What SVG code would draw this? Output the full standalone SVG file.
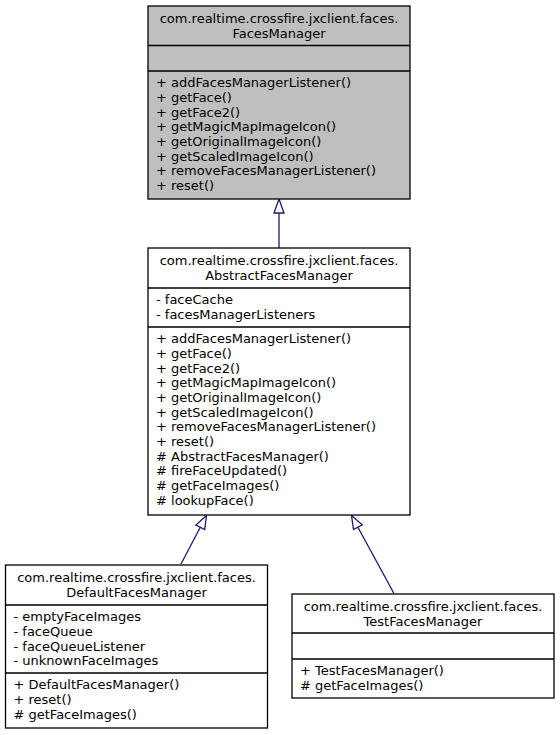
<svg xmlns="http://www.w3.org/2000/svg" width="560" height="735" viewBox="0 0 560 735">
<style>
text{font-family:"DejaVu Sans","Liberation Sans",sans-serif;font-size:13px;fill:#000}
.c{text-anchor:middle}
.box{fill:#fff;stroke:#000;stroke-width:1.3}
.gray{fill:#bfbfbf}
.sep{stroke:#000;stroke-width:1.3;fill:none}
.edge{stroke:#191970;stroke-width:1.3;fill:none}
.head{fill:#fff;stroke:#191970;stroke-width:1.3}
</style>
<rect width="560" height="735" fill="#fff"/>
<g id="connectors">
<path class="edge" d="M279,248 L279,213"/>
<polygon class="head" points="279,199 284,213 274,213"/>
<path class="edge" d="M181,564 L200.3,527.3"/>
<polygon class="head" points="206.5,515.5 204.7,529.6 195.9,525"/>
<path class="edge" d="M394,593.5 L357.9,527.2"/>
<polygon class="head" points="351.5,515.5 362.3,524.8 353.5,529.6"/>
</g>
<g id="FacesManager">
<rect class="box gray" x="148" y="6" width="262" height="193"/>
<path class="sep" d="M148,45.5 H410 M148,71 H410"/>
<text class="c" x="279" y="23.3">com.realtime.crossfire.jxclient.faces.</text>
<text class="c" x="279" y="38">FacesManager</text>
<text x="156" y="87.3">+ addFacesManagerListener()</text>
<text x="156" y="102">+ getFace()</text>
<text x="156" y="116.7">+ getFace2()</text>
<text x="156" y="131.3">+ getMagicMapImageIcon()</text>
<text x="156" y="146">+ getOriginalImageIcon()</text>
<text x="156" y="160.7">+ getScaledImageIcon()</text>
<text x="156" y="175.3">+ removeFacesManagerListener()</text>
<text x="156" y="190">+ reset()</text>
</g>
<g id="AbstractFacesManager">
<rect class="box" x="148" y="248" width="262" height="267"/>
<path class="sep" d="M148,288 H410 M148,327 H410"/>
<text class="c" x="279" y="265.3">com.realtime.crossfire.jxclient.faces.</text>
<text class="c" x="279" y="280">AbstractFacesManager</text>
<text x="156" y="304.3">- faceCache</text>
<text x="156" y="319">- facesManagerListeners</text>
<text x="156" y="343.3">+ addFacesManagerListener()</text>
<text x="156" y="358">+ getFace()</text>
<text x="156" y="372.7">+ getFace2()</text>
<text x="156" y="387.3">+ getMagicMapImageIcon()</text>
<text x="156" y="402">+ getOriginalImageIcon()</text>
<text x="156" y="416.7">+ getScaledImageIcon()</text>
<text x="156" y="431.3">+ removeFacesManagerListener()</text>
<text x="156" y="446">+ reset()</text>
<text x="156" y="460.7"># AbstractFacesManager()</text>
<text x="156" y="475.3"># fireFaceUpdated()</text>
<text x="156" y="490"># getFaceImages()</text>
<text x="156" y="504.7"># lookupFace()</text>
</g>
<g id="DefaultFacesManager">
<rect class="box" x="5.5" y="565" width="262" height="163"/>
<path class="sep" d="M5.5,605 H267.5 M5.5,673 H267.5"/>
<text class="c" x="136.5" y="582.3">com.realtime.crossfire.jxclient.faces.</text>
<text class="c" x="136.5" y="597">DefaultFacesManager</text>
<text x="13.5" y="621.3">- emptyFaceImages</text>
<text x="13.5" y="636">- faceQueue</text>
<text x="13.5" y="650.7">- faceQueueListener</text>
<text x="13.5" y="665.3">- unknownFaceImages</text>
<text x="13.5" y="689.3">+ DefaultFacesManager()</text>
<text x="13.5" y="704">+ reset()</text>
<text x="13.5" y="718.7"># getFaceImages()</text>
</g>
<g id="TestFacesManager">
<rect class="box" x="292" y="594" width="262" height="104"/>
<path class="sep" d="M292,633 H554 M292,659 H554"/>
<text class="c" x="423" y="611.3">com.realtime.crossfire.jxclient.faces.</text>
<text class="c" x="423" y="626">TestFacesManager</text>
<text x="300" y="675.3">+ TestFacesManager()</text>
<text x="300" y="690"># getFaceImages()</text>
</g>
</svg>
